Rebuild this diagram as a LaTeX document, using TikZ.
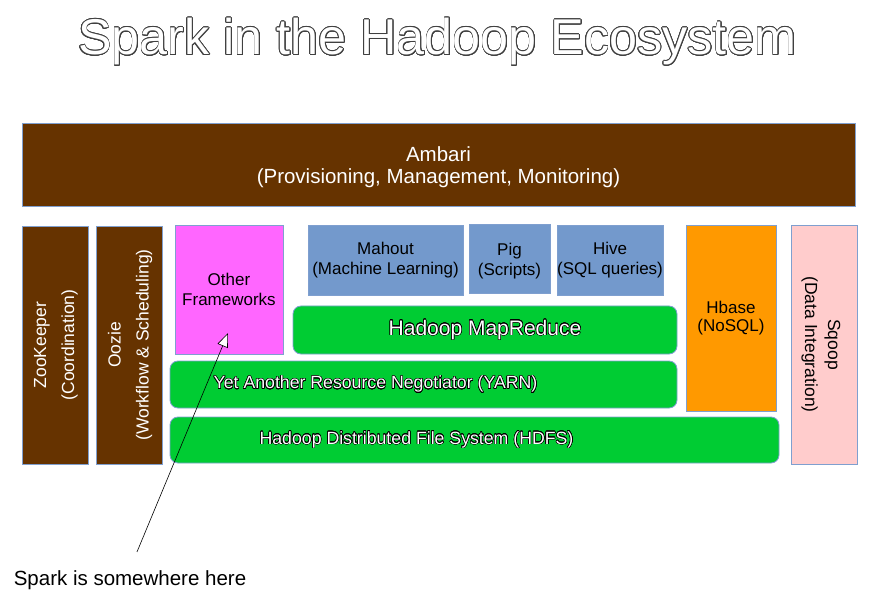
\documentclass[tikz,border=0pt]{standalone}
\usepackage{fontspec}
\setmainfont{Liberation Sans}
\usepackage[copies]{contour}
\usetikzlibrary{arrows.meta}
\contournumber{24}

\definecolor{ambbrown}{HTML}{663300}
\definecolor{fwpink}{HTML}{FF66FF}
\definecolor{toolblue}{HTML}{7399CC}
\definecolor{hdgreen}{HTML}{00CC33}
\definecolor{hborange}{HTML}{FF9900}
\definecolor{sqpink}{HTML}{FFCCCC}
\definecolor{edgeblue}{HTML}{7F9FCF}

\begin{document}
\begin{tikzpicture}[
    x=1pt, y=-1pt,
    >=Stealth,
    box/.style={
        draw=edgeblue,
        line width=0.8pt,
        inner sep=0pt,
        align=center,
        font=\fontsize{17}{20}\selectfont
    },
    brownbox/.style={box, fill=ambbrown, text=white},
    toolbox/.style={box, fill=toolblue},
    greenbox/.style={box, fill=hdgreen, rounded corners=8pt},
    sidetext/.style={align=center, font=\fontsize{17.5}{28}\selectfont},
    layertext/.style={font=\fontsize{17.7}{20}\selectfont, text=white},
    spkarrow/.style={
        -{Triangle[open, fill=white, length=14pt, width=11pt]},
        line width=0.6pt
    }
]

    % === canvas ===
    \useasboundingbox (0,0) rectangle (878,612);

    % === title ===
    \contourlength{0.7pt}
    \node[font=\fontsize{50.3}{54}\selectfont, text=white] (title) at (437.5,42)
        {\contour{black!75}{Spark in the Hadoop Ecosystem}};

    % === top bar ===
    \node[brownbox, minimum width=833pt, minimum height=83pt,
        font=\fontsize{20.5}{22}\selectfont] (ambari) at (438.5,164.5) {};
    \node[text=white, align=center, font=\fontsize{20.5}{22}\selectfont]
        at ([yshift=-2.5pt]ambari.center) {Ambari\\(Provisioning, Management, Monitoring)};

    % === side columns ===
    \node[brownbox, minimum width=66pt, minimum height=238pt] (zoo) at (55,345) {};
    \node[sidetext, rotate=90, text=white] at ([xshift=1pt]zoo.center)
        {ZooKeeper\\(Coordination)};
    \node[brownbox, minimum width=66pt, minimum height=238pt] (oozie) at (129,345) {};
    \node[sidetext, rotate=90, text=white] at ([xshift=1pt]oozie.center)
        {Oozie\\(Workflow \& Scheduling)};
    \node[box, fill=hborange, minimum width=90pt, minimum height=186pt,
        font=\fontsize{17}{18}\selectfont] (hbase) at (731,318)
        {Hbase\\(NoSQL)};
    \node[box, fill=sqpink, minimum width=66pt, minimum height=239pt] (sqoop) at (824,344.5) {};
    \node[sidetext, rotate=-90, font=\fontsize{17.5}{23}\selectfont] at ([xshift=-3pt]sqoop.center)
        {Sqoop\\(Data Integration)};

    % === frameworks ===
    \node[box, fill=fwpink, minimum width=108pt, minimum height=129pt] (other) at (229,289.5)
        {Other\\Frameworks};
    \node[toolbox, minimum width=155pt, minimum height=70pt] (mahout) at (385.5,260)
        {Mahout\\(Machine Learning)};
    \node[toolbox, minimum width=81pt, minimum height=69pt] (pig) at (509.5,258.5) {};
    \node[align=center, font=\fontsize{17}{20}\selectfont] at ([yshift=-3pt]pig.center)
        {Pig\\(Scripts)};
    \node[toolbox, minimum width=106pt, minimum height=70pt] (hive) at (610,260)
        {Hive\\(SQL queries)};

    % === core layers ===
    \contourlength{0.5pt}
    \node[greenbox, minimum width=384pt, minimum height=48pt,
        font=\fontsize{21}{24}\selectfont] (mapred) at (485,330)
        {\contour{black}{\color{white}Hadoop MapReduce}};
    \node[greenbox, minimum width=507pt, minimum height=47pt] (yarn) at (423.5,384.5) {};
    \node[layertext] at ([xshift=-48pt]yarn.center)
        {\contour{black}{Yet Another Resource Negotiator (YARN)}};
    \node[greenbox, minimum width=609pt, minimum height=46pt] (hdfs) at (474.5,440) {};
    \node[layertext] at ([xshift=-58pt]hdfs.center)
        {\contour{black}{Hadoop Distributed File System (HDFS)}};

    % === note ===
    \node[font=\fontsize{20.5}{24}\selectfont] (spark) at (130,580) {Spark is somewhere here};
    \coordinate (tip) at (228,333);
    \draw[spkarrow] ([xshift=7pt, yshift=15pt]spark.north) -- (tip);

\end{tikzpicture}
\end{document}
